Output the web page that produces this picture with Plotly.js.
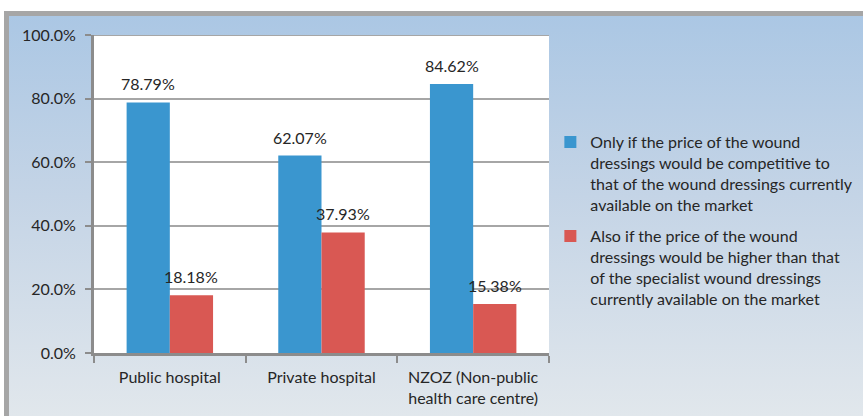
<!DOCTYPE html>
<html>
<head>
<meta charset="utf-8">
<script src="https://cdn.plot.ly/plotly-3.0.1.min.js"></script>
<style>
  html, body { margin: 0; padding: 0; background: #ffffff; }
  #wrap { position: relative; width: 863px; height: 416px; overflow: hidden; }
  #bg { position: absolute; left: 4px; top: 11px; width: 859px; height: 405px;
        box-sizing: border-box; border-top: 5px solid #a6a6a6; border-left: 5px solid #a6a6a6;
        background: linear-gradient(to bottom, #abc7e4 0%, #c4d4e6 45%, #e1e7ec 100%); }
  #chart { position: absolute; left: 0; top: 0; width: 863px; height: 416px; }
</style>
</head>
<body>
<div id="wrap">
  <div id="bg"></div>
  <div id="chart"></div>
</div>
<script>
const categories = ["Public hospital", "Private hospital", "NZOZ (Non-public<br>health care centre)"];
const seriesNames = [
  "Only if the price of the wound<br>dressings would be competitive to<br>that of the wound dressings currently<br>available on the market",
  "Also if the price of the wound<br>dressings would be higher than that<br>of the specialist wound dressings<br>currently available on the market"
];
const competitiveValues = [78.79, 62.07, 84.62];
const higherValues = [18.18, 37.93, 15.38];
const yTickValues = [0, 20, 40, 60, 80, 100];

const font = { family: "Lato, Open Sans, sans-serif", size: 16, color: "#262626" };
const BARGAP = 0.43;
const barWidth = (1 - BARGAP) / 2;

const traces = [
  { type: "bar", x: categories, y: competitiveValues, name: seriesNames[0], legendgroup: "g1",
    marker: { color: "#3a96cf" }, hoverinfo: "none" },
  { type: "bar", x: categories, y: higherValues, name: seriesNames[1], legendgroup: "g2",
    marker: { color: "#d95853" }, hoverinfo: "none" }
];

// Data labels placed above each bar (bar centre offset within its group)
const annotations = [];
[competitiveValues, higherValues].forEach((vals, s) => {
  const off = (s === 0 ? -0.5 : 0.5) * barWidth;
  vals.forEach((v, i) => {
    annotations.push({
      xref: "x", yref: "y", x: i + off, y: v,
      text: v.toFixed(2) + "%", showarrow: false,
      xanchor: "center", yanchor: "bottom", yshift: 7,
      font: font
    });
  });
});

const layout = {
  width: 863, height: 416,
  margin: { l: 94, r: 314, t: 35, b: 63, pad: 0, autoexpand: false },
  paper_bgcolor: "rgba(0,0,0,0)",
  plot_bgcolor: "#ffffff",
  font: font,
  barmode: "group",
  bargap: BARGAP,
  bargroupgap: 0,
  showlegend: true,
  legend: { x: 1.003, y: 0.717, xanchor: "left", yanchor: "top", bgcolor: "rgba(0,0,0,0)",
            font: font, valign: "top", tracegroupgap: 8, itemwidth: 30, traceorder: "grouped" },
  xaxis: {
    type: "category", showline: true, linecolor: "#8c8c8c", linewidth: 3,
    ticks: "outside", tickson: "boundaries", ticklen: 7, tickwidth: 2, tickcolor: "#8c8c8c",
    ticklabelstandoff: 8,
    showgrid: false, tickfont: font, fixedrange: true
  },
  yaxis: {
    range: [0, 100], tickvals: yTickValues,
    ticktext: yTickValues.map(v => v.toFixed(1) + "%"),
    showline: true, linecolor: "#8c8c8c", linewidth: 3,
    ticks: "outside", ticklen: 6, tickwidth: 2, tickcolor: "#8c8c8c",
    ticklabelstandoff: 6,
    showgrid: true, gridcolor: "#a6a6a6", gridwidth: 2,
    zeroline: false, tickfont: font, fixedrange: true
  },
  annotations: annotations,
  shapes: [
    { type: "line", xref: "paper", yref: "y", x0: 0, x1: 1, y0: 100, y1: 100,
      line: { color: "#a6a6a6", width: 2 } }
  ]
};

Plotly.newPlot("chart", traces, layout, { displayModeBar: false, staticPlot: true });
</script>
</body>
</html>
